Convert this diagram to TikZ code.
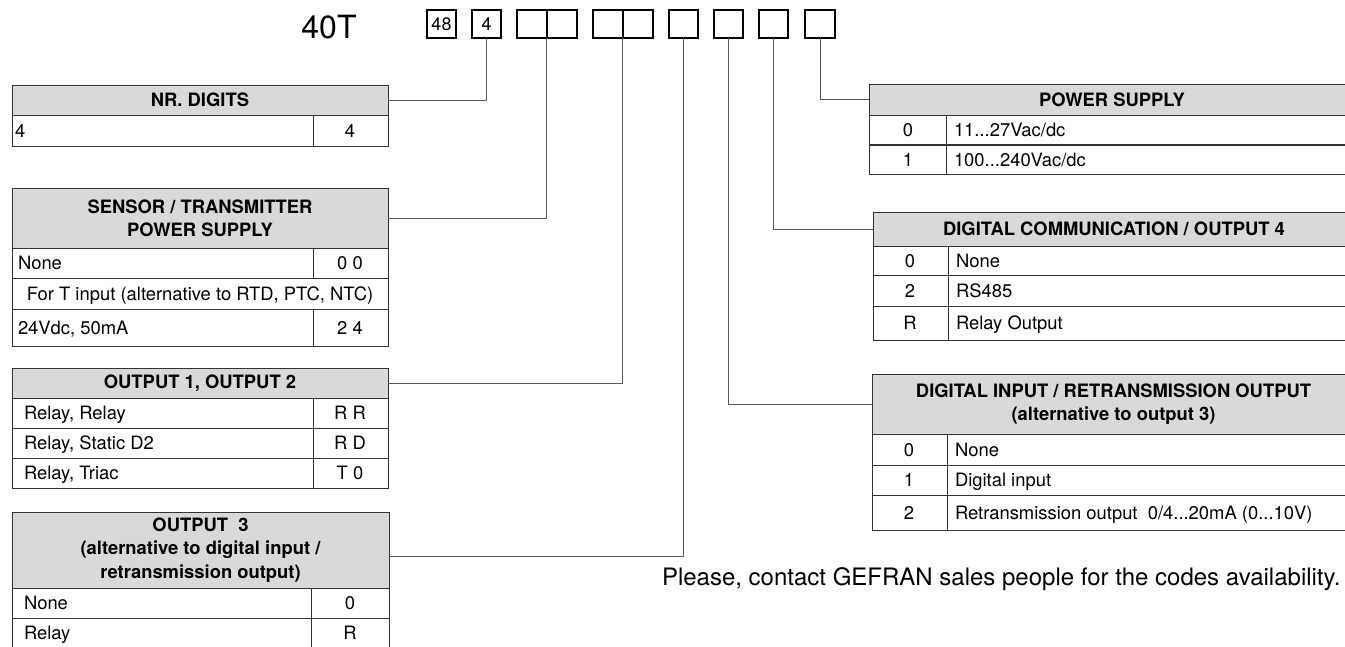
\documentclass[tikz,border=0pt]{standalone}
\usepackage{fontspec}
\setmainfont{TeX Gyre Heros}
\usetikzlibrary{positioning}
\newcommand\tabfont{\fontsize{13.8}{17.5}\selectfont}
\newcommand\dts{...}

\begin{document}
\begin{tikzpicture}[x=0.75pt,y=-0.75pt,
      every node/.style={inner sep=0pt,outer sep=0pt,font=\tabfont},
      hdr/.style={draw=black!80,fill=black!15,line width=0.75pt,align=center,font=\tabfont\bfseries},
      cell/.style={text height=10pt,text depth=0pt},
      row/.style={draw=black!80,line width=0.75pt},
      digbox/.style={draw,line width=1.4pt,minimum width=22pt,minimum height=21pt},
      link/.style={draw=black!65,line width=0.75pt}]
    \useasboundingbox (0,0) rectangle (1345,646);
    % order code
    \node[font=\fontsize{24}{28}\selectfont] (code) at (329,27) {40T};
    \node[digbox,font=\fontsize{13.5}{15}\selectfont] (b48) at (441.5,24) {48};
    \node[digbox,font=\fontsize{13.5}{15}\selectfont] (bNr) at (486.5,24) {\raisebox{-3pt}{4}};
    \foreach \n/\x in {bSa/532,bSb/562,bOa/608,bOb/638,bO3/683.5,bDi/728.5,bDc/773.5,bPs/820}
      \node[digbox] (\n) at (\x,24) {};
    % left tables
    \node[hdr,minimum width=282pt,minimum height=22.5pt] (nrd) at (200,100) {NR. DIGITS};
    \draw[row] (12,115) rectangle (388,146) (313,115) -- (313,146);
    \node[cell,anchor=west] (nrdl) at (15,130.5) {4};
    \node[cell] (nrdc) at (350,130.5) {4};

    \node[hdr,minimum width=282pt,minimum height=45pt] (sen) at (200,218) {SENSOR / TRANSMITTER\\POWER SUPPLY};
    \draw[row] (12,248) rectangle (388,346) (12,278) -- (388,278) (12,309) -- (388,309)
      (313,248) -- (313,278) (313,309) -- (313,346);
    \node[cell,anchor=west] (sen1l) at (18,263) {None};
    \node[cell] (sen1c) at (350,263) {0 0};
    \node[cell] (sen2) at (200,293.5) {For T input (alternative to RTD, PTC, NTC)};
    \node[cell,anchor=west] (sen3l) at (18,327.5) {24Vdc, 50mA};
    \node[cell] (sen3c) at (350,327.5) {2 4};

    \node[hdr,minimum width=282pt,minimum height=22.5pt] (out) at (200,383) {OUTPUT 1, OUTPUT 2};
    \foreach \y/\l/\c in {413/{Relay, Relay}/R R,443/{Relay, Static D2}/R D,473/{Relay, Triac}/T 0}{
      \draw[row] (12,\y-15) rectangle (388,\y+15) (313,\y-15) -- (313,\y+15);
      \node[cell,anchor=west] (outl\y) at (24,\y) {\l};
      \node[cell] (outc\y) at (350,\y) {\c};
    }

    \node[hdr,minimum width=282.75pt,minimum height=57pt] (o3) at (200.5,550) {OUTPUT\ \ 3\\(alternative to digital input /\\retransmission output)};
    \foreach \y/\l/\c in {603/None/0,633/Relay/R}{
      \draw[row] (12,\y-15) rectangle (389,\y+15) (311,\y-15) -- (311,\y+15);
      \node[cell,anchor=west] (o3l\y) at (24,\y) {\l};
      \node[cell] (o3c\y) at (350,\y) {\c};
    }

    % right tables
    \node[hdr,minimum width=364.5pt,minimum height=23.25pt] (pwr) at (1112,99.5) {POWER SUPPLY};
    \foreach \y/\c/\l in {130/0/{11\dts27Vac/dc},159.5/1/{100\dts240Vac/dc}}{
      \draw[row] (869,\y-15) rectangle (1355,\y+15) (946,\y-15) -- (946,\y+15);
      \node[cell] (pwrc\y) at (908,\y) {\c};
      \node[cell,anchor=west] (pwrl\y) at (954,\y) {\l};
    }

    \node[hdr,minimum width=361.5pt,minimum height=25.5pt] (dcm) at (1114,229) {DIGITAL COMMUNICATION / OUTPUT 4};
    \draw[row] (873,246) rectangle (1355,340) (873,275) -- (1355,275) (873,306) -- (1355,306) (948,246) -- (948,340);
    \foreach \y/\c/\l in {260.5/0/None,290.5/2/RS485,323/R/Relay Output}{
      \node[cell] (dcmc\y) at (910,\y) {\c};
      \node[cell,anchor=west] (dcml\y) at (956,\y) {\l};
    }

    \node[hdr,minimum width=362.25pt,minimum height=45pt] (din) at (1113.5,404) {DIGITAL INPUT / RETRANSMISSION OUTPUT\\(alternative to output 3)};
    \draw[row] (872,434) rectangle (1355,530) (872,465) -- (1355,465) (872,495) -- (1355,495) (947,434) -- (947,530);
    \foreach \y/\c/\l in {449.5/0/None,480/1/Digital input,512.5/2/{Retransmission output\ \ 0/4\dts20mA (0\dts10V)}}{
      \node[cell] (dinc\y) at (909,\y) {\c};
      \node[cell,anchor=west] (dinl\y) at (955,\y) {\l};
    }

    % connectors
    \draw[link] (nrd.east) -| (bNr.south);
    \draw[link] (sen.east) -| (bSa.south east);
    \draw[link] (out.east) -| (bOa.south east);
    \draw[link] ([yshift=-5pt]o3.east) -| (bO3.south);
    \draw[link] (din.west) -| (bDi.south);
    \draw[link] (dcm.west) -| (bDc.south);
    \draw[link] (pwr.west) -| (bPs.south);

    \node[font=\fontsize{18}{22}\selectfont,anchor=base west] (note) at (662,585) {Please, contact GEFRAN sales people for the codes availability.};
  \end{tikzpicture}
\end{document}
